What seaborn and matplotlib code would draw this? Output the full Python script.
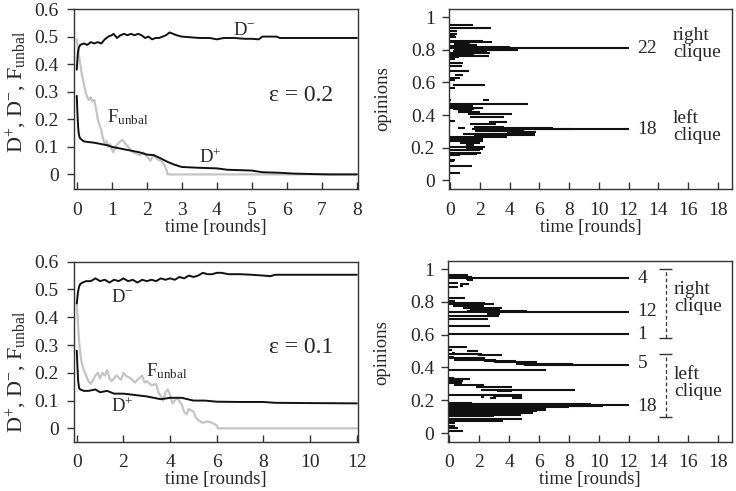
import matplotlib
matplotlib.use('Agg')
import numpy as np
import pandas as pd
import matplotlib.pyplot as plt
import seaborn as sns
from matplotlib.ticker import FuncFormatter

# --- eps = 0.2 : time evolution of D+, D-, F_unbal ---
t1_dm = [0, 0.03, 0.06, 0.1, 0.2, 0.3, 0.4, 0.5, 0.6, 0.7,
         0.8, 0.9, 1.0, 1.05, 1.15, 1.25, 1.35, 1.45, 1.55, 1.65,
         1.75, 1.85, 1.95, 2.05, 2.15, 2.25, 2.35, 2.45, 2.55, 2.65,
         2.75, 2.85, 3.0, 3.2, 3.5, 3.8, 4.0, 4.2, 4.5, 4.8,
         5.0, 5.2, 5.3, 5.5, 5.7, 5.8, 6.0, 7.0, 8.0]
d1_minus = [0.38, 0.44, 0.46, 0.47, 0.475, 0.47, 0.48, 0.475, 0.48, 0.475,
            0.49, 0.5, 0.505, 0.51, 0.495, 0.505, 0.51, 0.505, 0.51, 0.505,
            0.51, 0.505, 0.495, 0.5, 0.49, 0.495, 0.495, 0.5, 0.505, 0.515,
            0.51, 0.505, 0.5, 0.498, 0.495, 0.495, 0.49, 0.495, 0.495, 0.492,
            0.492, 0.49, 0.5, 0.5, 0.5, 0.495, 0.495, 0.495, 0.495]
t1_f = [0, 0.05, 0.1, 0.15, 0.2, 0.25, 0.3, 0.35, 0.4, 0.45,
        0.5, 0.55, 0.6, 0.65, 0.7, 0.75, 0.8, 0.85, 0.9, 0.95,
        1.0, 1.05, 1.1, 1.2, 1.3, 1.4, 1.5, 1.6, 1.7, 1.8,
        1.9, 2.0, 2.1, 2.2, 2.3, 2.4, 2.5, 2.55, 2.6, 8.0]
f1_unbal = [0.49, 0.44, 0.4, 0.36, 0.33, 0.3, 0.28, 0.27, 0.28, 0.265,
            0.27, 0.24, 0.2, 0.18, 0.16, 0.13, 0.11, 0.12, 0.1, 0.11,
            0.09, 0.08, 0.1, 0.115, 0.125, 0.11, 0.095, 0.08, 0.075, 0.07,
            0.08, 0.065, 0.05, 0.07, 0.055, 0.05, 0.035, 0.02, 0.0, 0.0]
t1_dp = [0, 0.02, 0.04, 0.06, 0.08, 0.1, 0.15, 0.2, 0.3, 0.5,
         0.7, 0.9, 1.0, 1.2, 1.4, 1.6, 1.8, 2.0, 2.2, 2.4,
         2.6, 2.8, 3.0, 3.5, 4.0, 4.3, 5.0, 5.3, 5.8, 6.2,
         7.2, 8.0]
d1_plus = [0.285, 0.22, 0.17, 0.145, 0.135, 0.13, 0.125, 0.12, 0.118, 0.115,
           0.11, 0.105, 0.1, 0.095, 0.09, 0.085, 0.08, 0.072, 0.07, 0.058,
           0.045, 0.035, 0.027, 0.024, 0.022, 0.017, 0.014, 0.008, 0.006, 0.003,
           0.0, 0.0]

# --- eps = 0.1 ---
t3_dm = [0, 0.05, 0.1, 0.15, 0.25, 0.4, 0.6, 0.8, 0.9, 1.0,
         1.2, 1.4, 1.6, 1.8, 2.0, 2.2, 2.4, 2.6, 2.8, 3.0,
         3.2, 3.4, 3.6, 3.8, 4.0, 4.2, 4.4, 4.6, 4.8, 5.0,
         5.2, 5.4, 5.6, 5.8, 6.0, 6.2, 6.5, 7.0, 7.5, 8.0,
         8.3, 8.5, 9.0, 10.0, 12.0]
d3_minus = [0.45, 0.49, 0.51, 0.52, 0.525, 0.53, 0.53, 0.54, 0.535, 0.53,
            0.535, 0.525, 0.535, 0.53, 0.54, 0.53, 0.535, 0.525, 0.535, 0.53,
            0.535, 0.53, 0.54, 0.535, 0.54, 0.535, 0.545, 0.54, 0.55, 0.545,
            0.55, 0.56, 0.555, 0.555, 0.56, 0.56, 0.555, 0.555, 0.553, 0.55,
            0.548, 0.553, 0.553, 0.553, 0.553]
t3_f = [0, 0.05, 0.1, 0.15, 0.2, 0.3, 0.4, 0.5, 0.6, 0.7,
        0.8, 0.9, 1.0, 1.1, 1.2, 1.3, 1.4, 1.5, 1.7, 1.9,
        2.0, 2.1, 2.3, 2.5, 2.6, 2.8, 2.9, 3.0, 3.2, 3.4,
        3.5, 3.6, 3.7, 3.8, 3.9, 4.0, 4.1, 4.3, 4.5, 4.6,
        4.7, 4.8, 5.0, 5.1, 5.2, 5.4, 5.6, 5.8, 6.0, 6.05,
        12.0]
f3_unbal = [0.45, 0.38, 0.31, 0.27, 0.24, 0.21, 0.19, 0.17, 0.16, 0.175,
            0.19, 0.2, 0.18, 0.2, 0.19, 0.21, 0.18, 0.17, 0.19, 0.175,
            0.2, 0.19, 0.18, 0.165, 0.175, 0.19, 0.165, 0.17, 0.155, 0.16,
            0.13, 0.115, 0.1, 0.13, 0.14, 0.12, 0.09, 0.11, 0.085, 0.06,
            0.05, 0.07, 0.06, 0.04, 0.03, 0.02, 0.025, 0.02, 0.01, 0.0,
            0.0]
t3_dp = [0, 0.03, 0.06, 0.1, 0.15, 0.3, 0.5, 0.8, 1.0, 1.3,
         1.6, 2.0, 2.5, 3.0, 3.3, 3.6, 4.0, 4.5, 5.0, 5.5,
         6.0, 7.0, 8.0, 8.5, 10.0, 12.0]
d3_plus = [0.28, 0.22, 0.17, 0.145, 0.14, 0.135, 0.135, 0.14, 0.13, 0.135,
           0.125, 0.125, 0.12, 0.115, 0.11, 0.105, 0.11, 0.11, 0.1, 0.1,
           0.096, 0.095, 0.095, 0.092, 0.091, 0.09]

# --- opinion segments, eps = 0.2 (opinion, start round, end round) ---
seg2_y = [0.955, 0.935, 0.914, 0.900, 0.888, 0.878, 0.857, 0.847, 0.837, 0.827,
          0.822, 0.810, 0.815, 0.805, 0.800, 0.796, 0.790, 0.785, 0.780, 0.772,
          0.765, 0.755, 0.745, 0.718, 0.698, 0.673, 0.643, 0.629, 0.616, 0.582,
          0.567, 0.490, 0.490, 0.469, 0.453, 0.445, 0.435, 0.429, 0.418, 0.404,
          0.388, 0.363, 0.357, 0.343, 0.330, 0.322, 0.316, 0.320, 0.312, 0.305,
          0.300, 0.296, 0.286, 0.276, 0.265, 0.255, 0.241, 0.229, 0.214, 0.204,
          0.194, 0.184, 0.167, 0.159, 0.153, 0.127, 0.118, 0.086, 0.045]
seg2_t0 = [0, 0, 0, 0, 0, 0, 0, 0, 0.25, 0.45,
           0, 0, 0.9, 0.6, 0.3, 0.8, 0.2, 0.4, 0, 0,
           0, 0, 0, 0, 0, 0, 0.35, 0, 0, 0.22,
           0, 0, 2.25, 0, 0, 0, 0.2, 0.55, 0.55, 1.2,
           1.35, 0, 2.6, 1.35, 1.6, 0.55, 1.5, 2.3, 2.0, 2.6,
           1.7, 3.8, 0.9, 1.6, 0, 0, 0, 0.7, 1.1, 0,
           1.1, 0, 0, 0.25, 0, 0, 0, 0, 0]
seg2_t1 = [1.55, 2.75, 0.5, 0.45, 0.35, 0.4, 2.25, 2.85, 1.35, 1.8,
           1.0, 12.0, 4.0, 3.2, 4.6, 3.4, 2.5, 2.0, 2.7, 1.6,
           2.6, 0.6, 0.35, 0.9, 0.8, 1.25, 0.9, 0.65, 0.35, 2.35,
           0.35, 0.1, 2.6, 5.25, 1.55, 2.25, 1.6, 1.45, 2.0, 4.2,
           3.6, 0.35, 3.8, 3.1, 3.6, 1.0, 12.0, 6.9, 8.2, 5.0,
           4.6, 5.8, 5.7, 5.7, 3.8, 2.25, 2.25, 2.0, 1.6, 2.35,
           2.25, 2.0, 2.1, 1.8, 0.7, 0.35, 0.25, 1.45, 0.7]

# --- opinion segments, eps = 0.1 ---
seg4_y = [0.965, 0.959, 0.952, 0.945, 0.940, 0.932, 0.918, 0.912, 0.898, 0.892,
          0.822, 0.806, 0.796, 0.786, 0.776, 0.765, 0.755, 0.745, 0.739, 0.729,
          0.720, 0.714, 0.694, 0.653, 0.602, 0.524, 0.506, 0.500, 0.490, 0.484,
          0.476, 0.463, 0.455, 0.447, 0.439, 0.431, 0.424, 0.418, 0.384, 0.337,
          0.327, 0.316, 0.306, 0.292, 0.280, 0.265, 0.255, 0.235, 0.228, 0.220,
          0.212, 0.212, 0.182, 0.178, 0.173, 0.168, 0.163, 0.158, 0.153, 0.143,
          0.133, 0.122, 0.112, 0.102, 0.088, 0.076, 0.061, 0.045, 0.031, 0.010]
seg4_t0 = [0, 0, 0.5, 0, 1.1, 1.2, 0, 0.7, 0.7, 0,
           0, 0, 0, 0, 0.25, 0.9, 1.4, 1.2, 0, 2.5,
           2.7, 0, 0, 0, 0, 0, 0, 1.2, 0.15, 0,
           1.95, 0, 0, 0.3, 2.3, 3.0, 4.5, 5.0, 0, 0,
           0, 0, 0, 0.3, 1.8, 2.1, 3.2, 0, 2.95, 2.1,
           2.7, 4.2, 0, 0.3, 0, 1.0, 0, 2.0, 0, 0,
           0, 0, 0, 0, 0, 0, 0, 0, 0, 0]
seg4_t1 = [1.28, 0.7, 1.5, 12.0, 1.6, 1.6, 0.6, 1.3, 0.95, 0.6,
           1.05, 0.4, 2.4, 3.0, 2.3, 3.5, 3.4, 5.2, 12.0, 3.4,
           3.3, 3.3, 2.6, 2.7, 12.0, 1.2, 0.15, 1.95, 0.4, 2.2,
           3.5, 0.3, 2.4, 3.1, 4.5, 5.9, 8.3, 12.0, 6.5, 0.3,
           1.4, 0.95, 0.85, 2.3, 4.2, 8.4, 4.2, 4.9, 4.9, 2.3,
           3.1, 4.9, 1.5, 9.5, 12.0, 10.3, 9.0, 8.0, 6.5, 6.5,
           5.9, 5.6, 4.8, 3.0, 4.9, 3.6, 0.4, 0.4, 0.6, 0.95]

# cluster sizes written next to the final opinions
count2_y = [0.81, 0.31]
count2_lbl = ['22', '18']
count4_y = [0.945, 0.739, 0.602, 0.422, 0.162]
count4_lbl = ['4', '12', '1', '5', '18']
# clique brackets (low, high) for eps = 0.1
brackets4 = [(0.58, 1.0), (0.10, 0.48)]

BLACK = '#111111'
GRAY = '#c4c4c4'
FS = 13.5

sns.set_style('ticks')
plt.rcParams['font.family'] = ['Liberation Serif', 'DejaVu Serif']
plt.rcParams['mathtext.fontset'] = 'custom'
plt.rcParams['mathtext.rm'] = 'Liberation Serif'
plt.rcParams['mathtext.it'] = 'Liberation Serif:italic'
plt.rcParams['font.size'] = FS

fmt = FuncFormatter(lambda v, p: '%g' % round(v, 3))


def style_axes(ax, ypad):
    for s in ax.spines.values():
        s.set_visible(True)
        s.set_color('#333333')
        s.set_linewidth(1.0)
    ax.tick_params(axis='y', direction='out', length=5, width=1, pad=ypad,
                   labelsize=14, color='#333333')
    ax.tick_params(axis='x', direction='in', length=5, width=1, pad=9,
                   labelsize=14, color='#333333')
    ax.xaxis.set_major_formatter(fmt)
    ax.yaxis.set_major_formatter(fmt)
    ax.set_xlabel('time [rounds]', fontsize=FS, labelpad=0)


def draw_dynamics(ax, tdm, dm, tf, fu, tdp, dp, xmax, xstep, ylo):
    sns.lineplot(x=tf, y=fu, ax=ax, color=GRAY, lw=1.6, sort=False, estimator=None)
    sns.lineplot(x=tdm, y=dm, ax=ax, color=BLACK, lw=1.4, sort=False, estimator=None)
    sns.lineplot(x=tdp, y=dp, ax=ax, color=BLACK, lw=1.4, sort=False, estimator=None)
    ax.set_xlim(-0.01 * xmax, xmax * 1.003)
    ax.set_ylim(ylo, 0.6)
    ax.set_xticks(np.arange(0, xmax + 0.01, xstep))
    ax.set_yticks(np.arange(0, 0.61, 0.1))
    style_axes(ax, 6)
    ax.set_ylabel('D$^{+}$, D$^{-}$, F$_{\\rm unbal}$', fontsize=16)


def draw_opinions(ax, ys, t0, t1):
    ax.hlines(ys, t0, t1, color=BLACK, lw=1.5)
    ax.set_xlim(-0.07, 18.95)
    ax.set_ylim(-0.053, 1.05)
    ax.set_xticks(np.arange(0, 19, 2))
    ax.set_yticks(np.arange(0, 1.01, 0.2))
    style_axes(ax, 5)
    ax.set_ylabel('opinions', fontsize=FS)


fig = plt.figure(figsize=(7.36, 4.91), dpi=100)
ax1 = fig.add_axes([0.1005, 0.615, 0.3855, 0.3666])
ax2 = fig.add_axes([0.610, 0.615, 0.3845, 0.3666])
ax3 = fig.add_axes([0.1005, 0.1004, 0.3855, 0.3666])
ax4 = fig.add_axes([0.609, 0.1004, 0.386, 0.368])

# top left
draw_dynamics(ax1, t1_dm, d1_minus, t1_f, f1_unbal, t1_dp, d1_plus, 8, 1, -0.053)
ax1.text(4.45, 0.505, 'D$^{-}$', fontsize=FS)
ax1.text(0.86, 0.19, 'F$_{\\rm unbal}$', fontsize=FS)
ax1.text(3.5, 0.04, 'D$^{+}$', fontsize=FS)
ax1.text(5.5, 0.265, 'ε = 0.2', fontsize=17)
ax1.yaxis.set_label_coords(-0.16, 0.54)

# bottom left
draw_dynamics(ax3, t3_dm, d3_minus, t3_f, f3_unbal, t3_dp, d3_plus, 12, 2, -0.048)
ax3.text(1.45, 0.456, 'D$^{-}$', fontsize=FS)
ax3.text(2.95, 0.186, 'F$_{\\rm unbal}$', fontsize=FS)
ax3.text(1.45, 0.06, 'D$^{+}$', fontsize=FS)
ax3.text(8.25, 0.27, 'ε = 0.1', fontsize=17)
ax3.yaxis.set_label_coords(-0.16, 0.39)

# top right
draw_opinions(ax2, seg2_y, seg2_t0, seg2_t1)
for y, lbl in zip(count2_y, count2_lbl):
    ax2.text(12.55, y, lbl, fontsize=14, va='center')
ax2.text(14.98, 0.837, 'right\nclique', fontsize=14, va='center', linespacing=1.0)
ax2.text(14.98, 0.327, 'left\nclique', fontsize=14, va='center', linespacing=1.0)
ax2.yaxis.set_label_coords(-0.205, 0.505)

# bottom right
draw_opinions(ax4, seg4_y, seg4_t0, seg4_t1)
for y, lbl in zip(count4_y, count4_lbl):
    ax4.text(12.6, y, lbl, fontsize=14, va='center')
for lo, hi in brackets4:
    ax4.vlines(14.48, lo, hi, color='#333333', lw=0.9, linestyles=(0, (3, 2)))
    ax4.hlines([lo, hi], 14.05, 14.9, color='#333333', lw=1.0)
ax4.text(15.03, 0.827, 'right\nclique', fontsize=14, va='center', linespacing=1.0)
ax4.text(15.03, 0.306, 'left\nclique', fontsize=14, va='center', linespacing=1.0)
ax4.yaxis.set_label_coords(-0.205, 0.496)

fig.savefig('out.png', dpi=100)
